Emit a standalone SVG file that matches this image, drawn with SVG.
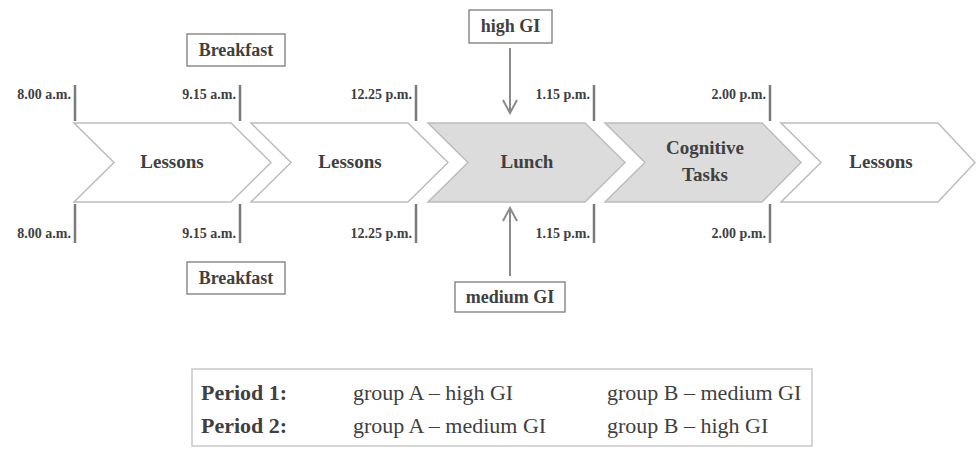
<svg xmlns="http://www.w3.org/2000/svg" width="976" height="451" viewBox="0 0 976 451">
<defs>
<style>
.chev{fill:#ffffff;stroke:#bcbcbc;stroke-width:1.5}
.chev.g{fill:#dcdcdc}
.lbl{font-family:"Liberation Serif","Times New Roman",serif;font-weight:bold;font-size:19px;fill:#404040;text-anchor:middle}
.tm{font-family:"Liberation Serif","Times New Roman",serif;font-weight:bold;font-size:14px;fill:#404040;text-anchor:end}
.tick{stroke:#7a7a7a;stroke-width:2.5}
.box{fill:#ffffff;stroke:#7a7a7a;stroke-width:1.3}
.bt{font-family:"Liberation Serif","Times New Roman",serif;font-weight:bold;font-size:18px;fill:#404040;text-anchor:middle}
.arr{stroke:#8a8a8a;stroke-width:2;fill:none}
.leg{font-family:"Liberation Serif","Times New Roman",serif;font-size:22px;fill:#404040}
.legb{font-weight:bold}
</style>
<marker id="ah" viewBox="0 0 16 16" refX="14" refY="8" markerWidth="16" markerHeight="16" markerUnits="userSpaceOnUse" orient="auto">
<path d="M1,1 L14,8 L1,15" fill="none" stroke="#8a8a8a" stroke-width="2"/>
</marker>
</defs>
<rect width="976" height="451" fill="#ffffff"/>

<g id="chev1"><polygon class="chev" points="74,123 231,123 271,162.5 231,202 74,202 114,162.5"/><text class="lbl" x="172" y="168">Lessons</text></g>
<g id="chev2"><polygon class="chev" points="251,123 408,123 448,162.5 408,202 251,202 291,162.5"/><text class="lbl" x="350" y="168">Lessons</text></g>
<g id="chev3"><polygon class="chev g" points="428,123 585,123 625,162.5 585,202 428,202 468,162.5"/><text class="lbl" x="527" y="168">Lunch</text></g>
<g id="chev4"><polygon class="chev g" points="605,123 762,123 801,162.5 762,202 605,202 645,162.5"/><text class="lbl" x="705" y="154">Cognitive</text><text class="lbl" x="705" y="181">Tasks</text></g>
<g id="chev5"><polygon class="chev" points="781,123 938,123 975,162.5 938,202 781,202 821,162.5"/><text class="lbl" x="881" y="168">Lessons</text></g>

<g id="ticks">
<line class="tick" x1="75" y1="85" x2="75" y2="121"/><line class="tick" x1="75" y1="204" x2="75" y2="243"/>
<line class="tick" x1="240" y1="85" x2="240" y2="121"/><line class="tick" x1="240" y1="204" x2="240" y2="243"/>
<line class="tick" x1="416" y1="85" x2="416" y2="121"/><line class="tick" x1="416" y1="204" x2="416" y2="243"/>
<line class="tick" x1="594" y1="85" x2="594" y2="121"/><line class="tick" x1="594" y1="204" x2="594" y2="243"/>
<line class="tick" x1="770" y1="85" x2="770" y2="121"/><line class="tick" x1="770" y1="204" x2="770" y2="243"/>
<text class="tm" x="71" y="99">8.00 a.m.</text><text class="tm" x="71" y="238">8.00 a.m.</text>
<text class="tm" x="236" y="99">9.15 a.m.</text><text class="tm" x="236" y="238">9.15 a.m.</text>
<text class="tm" x="412" y="99">12.25 p.m.</text><text class="tm" x="412" y="238">12.25 p.m.</text>
<text class="tm" x="590" y="99">1.15 p.m.</text><text class="tm" x="590" y="238">1.15 p.m.</text>
<text class="tm" x="766" y="99">2.00 p.m.</text><text class="tm" x="766" y="238">2.00 p.m.</text>
</g>

<g id="breakfast-top"><rect class="box" x="187" y="34" width="98" height="32"/><text class="bt" x="236" y="56">Breakfast</text></g>
<g id="breakfast-bottom"><rect class="box" x="187" y="262" width="98" height="32"/><text class="bt" x="236" y="284">Breakfast</text></g>
<g id="highgi"><rect class="box" x="469" y="10" width="83" height="33"/><text class="bt" x="510.5" y="32">high GI</text></g>
<g id="mediumgi"><rect class="box" x="455" y="282" width="110" height="30"/><text class="bt" x="510" y="303">medium GI</text></g>

<g id="connectors">
<line class="arr" x1="510" y1="48" x2="510" y2="113" marker-end="url(#ah)"/>
<line class="arr" x1="510" y1="276" x2="510" y2="208" marker-end="url(#ah)"/>
</g>

<g id="legend">
<rect x="192" y="369" width="620" height="77" fill="#ffffff" stroke="#c8c8c8" stroke-width="1.5"/>
<text class="leg legb" x="201" y="400">Period 1:</text>
<text class="leg" x="353" y="400">group A – high GI</text>
<text class="leg" x="607" y="400">group B – medium GI</text>
<text class="leg legb" x="201" y="433">Period 2:</text>
<text class="leg" x="353" y="433">group A – medium GI</text>
<text class="leg" x="607" y="433">group B – high GI</text>
</g>
</svg>
